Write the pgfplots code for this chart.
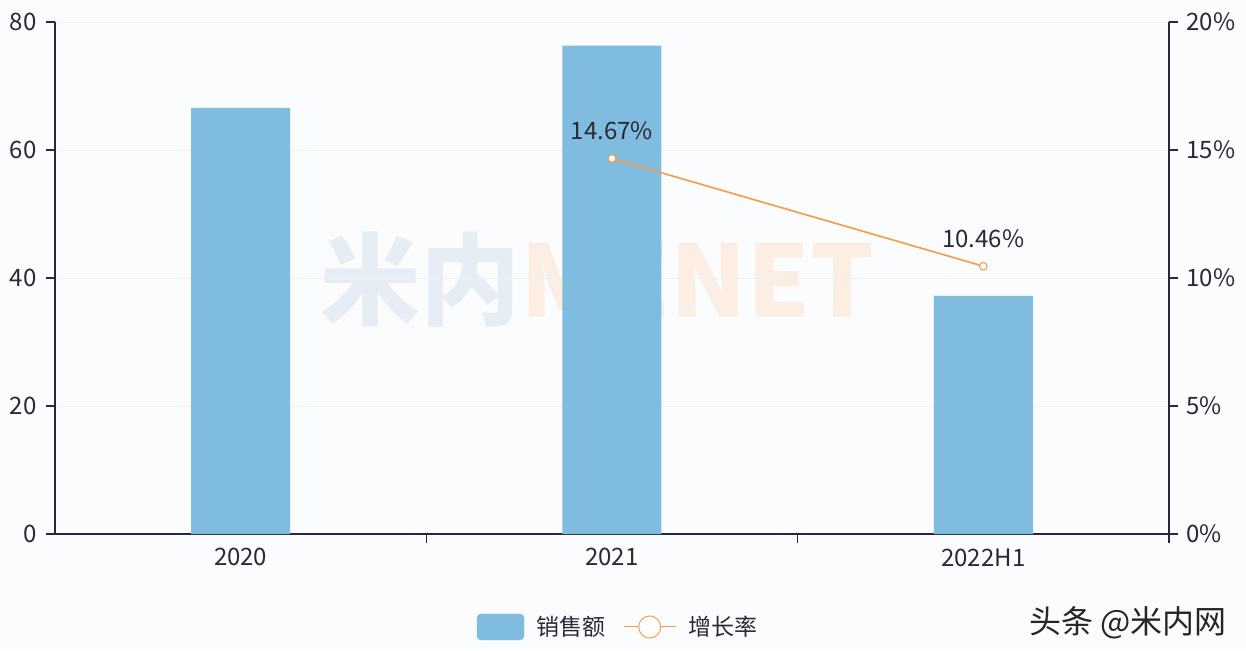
\documentclass[border=0pt]{standalone}
\usepackage{pgfplots}
\pgfplotsset{compat=1.18}
\usepackage{fontspec}
\setmainfont{Noto Sans CJK SC}
\definecolor{barblue}{HTML}{80BBE0}
\definecolor{lineorange}{HTML}{F0A04E}
\definecolor{axisdark}{HTML}{2C2540}
\definecolor{txt}{HTML}{2A2A35}
\definecolor{gridc}{HTML}{EAF1F7}
\definecolor{bg}{HTML}{FBFCFE}
\definecolor{wmblue}{HTML}{E6EDF5}
\definecolor{wmorange}{HTML}{FCEEE2}
\begin{document}
\begin{tikzpicture}[x=1pt,y=1pt]
\fill[bg] (-55,-116) rectangle (1191,534);
\useasboundingbox (-55,-116) rectangle (1191,534);
\node[anchor=west, inner sep=0pt, font=\fontsize{100}{100}\selectfont\bfseries] at (265,254) {\textcolor{wmblue}{米内}\textcolor{wmorange}{MENET}};
\begin{axis}[
  at={(0,0)}, anchor=south west, scale only axis,
  width=1114pt, height=512pt,
  xmin=-0.5, xmax=2.5, ymin=0, ymax=80,
  axis x line*=bottom, axis y line*=left,
  axis line style={axisdark, line width=1.1pt, -},
  ytick={0,20,...,80},
  ymajorgrids, grid style={gridc, line width=0.8pt},
  tick align=outside, major tick length=9pt,
  tick style={axisdark, line width=1.1pt},
  xtick={0.5,1.5,2.5}, xticklabels={},
  extra x ticks={0,1,2}, extra x tick labels={2020,2021,2022H1},
  extra x tick style={major tick length=0pt, grid=none, xticklabel style={yshift=-11pt}},
  ticklabel style={font=\fontsize{24}{28}\selectfont, text=txt},
  yticklabel style={xshift=-6pt},
  /pgf/number format/assume math mode=true,
]
\addplot[ybar, bar width=99pt, fill=barblue, draw=none] coordinates {(0,66.6) (1,76.3) (2,37.2)};
\end{axis}
\begin{axis}[
  at={(0,0)}, anchor=south west, scale only axis,
  width=1114pt, height=512pt,
  xmin=-0.5, xmax=2.5, ymin=0, ymax=20,
  axis x line=none, axis y line*=right,
  axis line style={axisdark, line width=1.1pt, -},
  ytick={0,5,...,20},
  yticklabel={\pgfmathprintnumber{\tick}\%},
  tick align=outside, major tick length=9pt,
  tick style={axisdark, line width=1.1pt},
  ticklabel style={font=\fontsize{24}{28}\selectfont, text=txt},
  yticklabel style={xshift=5pt},
  /pgf/number format/assume math mode=true,
  legend style={at={(0.5054,-0.1816)}, anchor=center, draw=none, fill=none,
    legend columns=-1, font=\fontsize{23}{27}\selectfont, text=txt,
    /tikz/every odd column/.append style={column sep=10pt},
    /tikz/every even column/.append style={column sep=16pt}},
]
\addlegendimage{legend image code/.code={\fill[barblue, rounded corners=4pt] (0pt,-13pt) rectangle (47pt,13pt);}}
\addlegendentry{销售额}
\addplot[lineorange, line width=1.7pt, mark=*, mark size=3.8pt,
  mark options={fill=white, draw=lineorange, line width=1.1pt},
  point meta=y,
  nodes near coords={\pgfmathprintnumber[fixed, precision=2, fixed zerofill, assume math mode=true]{\pgfplotspointmeta}\%},
  every node near coord/.append style={anchor=center, yshift=28pt, font=\fontsize{24}{28}\selectfont, text=txt},
  legend image code/.code={\draw[lineorange, line width=1pt] (0pt,0pt) -- (52pt,0pt); \draw[lineorange, fill=white, line width=1pt] (26pt,0pt) circle (11pt);}
] coordinates {(1,14.67) (2,10.46)};
\addlegendentry{增长率}
\end{axis}
\node[anchor=center, font=\fontsize{32}{36}\selectfont, text=black!85] at (1073,-89) {头条 @米内网};
\end{tikzpicture}
\end{document}
